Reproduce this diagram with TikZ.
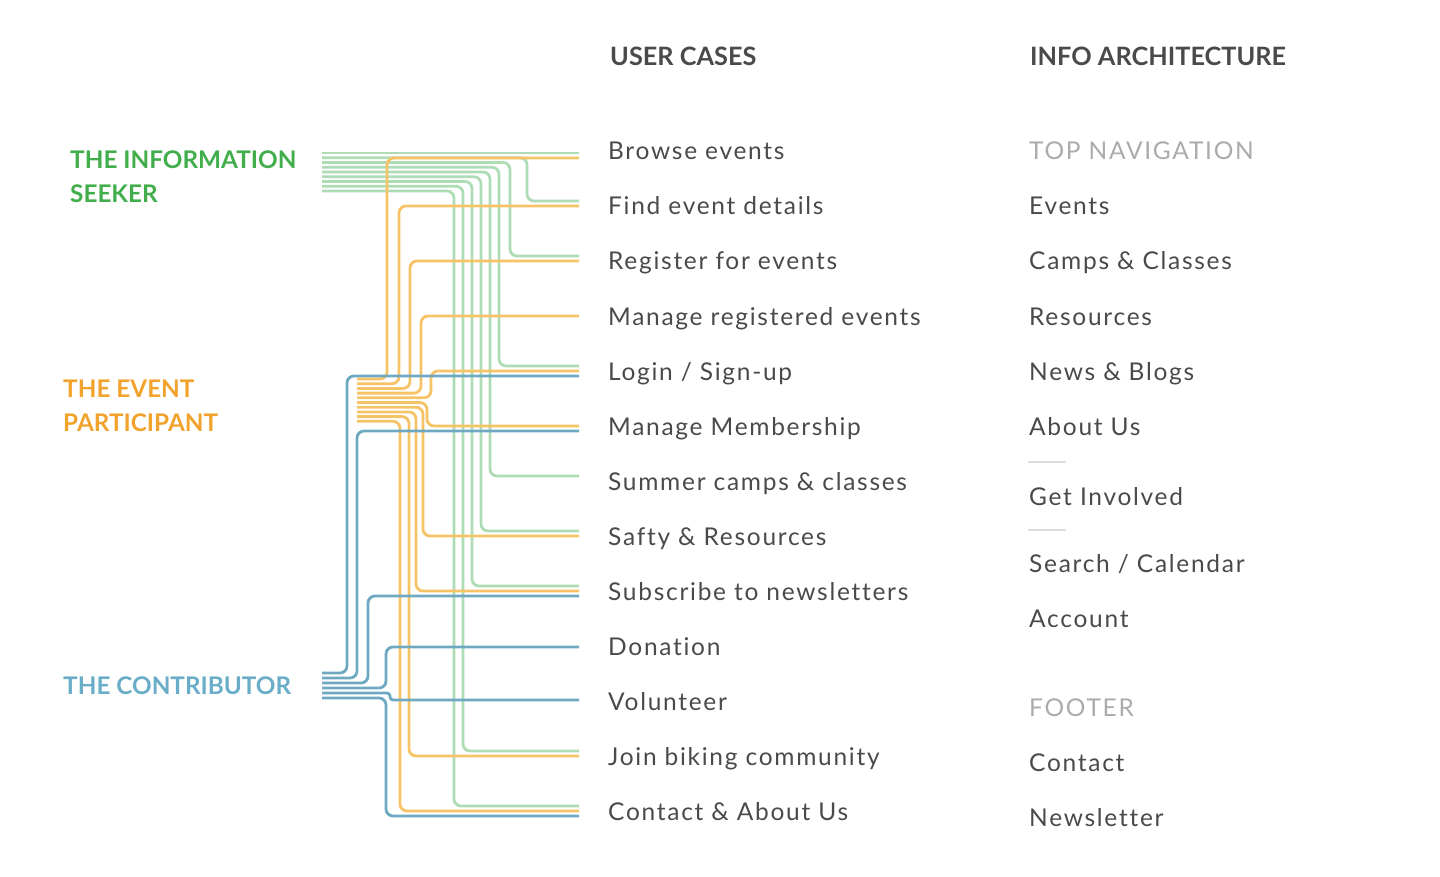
\documentclass[tikz,border=0pt]{standalone}
\usepackage{fontspec}
\setmainfont{Lato}
\newfontfamily\casefont[LetterSpace=7,Ligatures=NoCommon]{Lato}

\definecolor{seektext}{HTML}{42AE4B}
\definecolor{seekline}{HTML}{ADDCB5}
\definecolor{parttext}{HTML}{F2A32E}
\definecolor{partline}{HTML}{F6C366}
\definecolor{conttext}{HTML}{6AADC8}
\definecolor{contline}{HTML}{6EA9C1}
\definecolor{inktext}{HTML}{4A4A4A}
\definecolor{softtext}{HTML}{ABABAB}
\definecolor{rulegray}{HTML}{DDDDDD}

\tikzset{
  caseitem/.style={anchor=base west,inner sep=0pt,text=inktext,
    font=\casefont\fontsize{24.5}{30}\selectfont},
  softitem/.style={caseitem,text=softtext},
  colhead/.style={anchor=base west,inner sep=0pt,text=inktext,
    font=\bfseries\fontsize{25.3}{30}\selectfont},
  persona/.style={anchor=north west,inner sep=0pt,align=left,
    font=\bfseries\fontsize{24.3}{33.5}\selectfont},
  wire/.style={line width=2.8pt,rounded corners=7pt},
  seekwire/.style={wire,seekline},
  partwire/.style={wire,partline},
  contwire/.style={wire,contline}
}

\begin{document}
\begin{tikzpicture}[x=1pt,y=-1pt]
\useasboundingbox (0,0) rectangle (1440,877);

% headings
\node[colhead] (cases) at (610,66) {USER CASES};
\node[colhead] (arch) at (1030,66) {INFO ARCHITECTURE};

% personas
\node[persona,text=seektext] (seeker) at (70,151) {THE INFORMATION\\SEEKER};
\node[persona,text=parttext] (participant) at (63,380) {THE EVENT\\PARTICIPANT};
\node[persona,text=conttext] (contributor) at (63,677) {THE CONTRIBUTOR};

% user cases
\foreach \t [count=\k from 0] in {Browse events,Find event details,
  Register for events,Manage registered events,Login / Sign-up,
  Manage Membership,Summer camps \& classes,Safty \& Resources,
  Subscribe to newsletters,Donation,Volunteer,Join biking community,
  Contact \& About Us}
  \node[caseitem] (uc\k) at (608,160+55*\k) {\t};

% info architecture
\node[softitem] (topnav) at (1029,160) {TOP NAVIGATION};
\foreach \t/\y [count=\k] in {Events/215,Camps \& Classes/270,Resources/325,
  News \& Blogs/380,About Us/435,Get Involved/505,{Search / Calendar}/572,
  Account/627}
  \node[caseitem] (ia\k) at (1029,\y) {\t};
\node[softitem] (footer) at (1029,716) {FOOTER};
\node[caseitem] (contact) at (1029,771) {Contact};
\node[caseitem] (letter) at (1029,826) {Newsletter};
\draw[rulegray,line width=2.5pt] (1028,462) -- (1066,462);
\draw[rulegray,line width=2.5pt] (1028,530) -- (1066,530);

% wire ends
\foreach \k in {0,...,12} {
  \coordinate (ge\k) at (579,151+55*\k-5);
  \coordinate (oe\k) at (579,151+55*\k);
  \coordinate (be\k) at (579,151+55*\k+5);
}
\coordinate (ge0) at (579,153);
\coordinate (oe0) at (579,158);
\coordinate (be9) at (579,647);
\coordinate (be10) at (579,700);

% wire starts
\foreach \i in {1,...,9} \coordinate (gs\i) at (322,153+4.75*\i-4.75);
\foreach \i in {1,...,10} \coordinate (os\i) at (357,379+4.7*\i-4.7);
\foreach \i in {1,...,6} \coordinate (bs\i) at (322,673+5*\i-5);

% the information seeker
\draw[seekwire] (gs1) -- (ge0);
\foreach \i/\k/\dx in {2/1/52pt,3/2/69pt,4/4/80pt,5/6/89pt,6/7/98pt,
  7/8/107pt,8/11/116pt,9/12/125pt}
  \draw[seekwire] (gs\i) -| ([xshift=-\dx]ge\k) -- (ge\k);

% the event participant
\foreach \i/\k/\dx in {1/0/192pt,2/1/180pt,3/2/169pt,4/3/158pt,5/4/148pt,
  6/5/152pt,7/7/156pt,8/8/163pt,9/11/170pt,10/12/179pt}
  \draw[partwire] (os\i) -| ([xshift=-\dx]oe\k) -- (oe\k);

% the contributor
\foreach \i/\k/\dx in {1/4/232pt,2/5/222pt,3/8/211pt,4/9/193pt,6/12/193pt}
  \draw[contwire] (bs\i) -| ([xshift=-\dx]be\k) -- (be\k);
\draw[contwire,rounded corners=3pt] (bs5) -| ([xshift=-189pt]be10) -- (be10);
\end{tikzpicture}
\end{document}
